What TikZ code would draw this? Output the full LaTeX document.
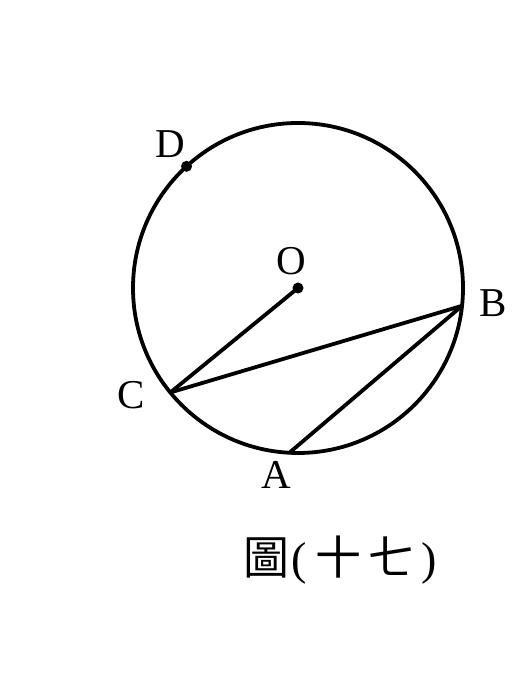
\documentclass[tikz,border=0pt]{standalone}
\usepackage{fontspec}
\setmainfont{Liberation Serif}
\newfontfamily\cjkfont{Noto Sans CJK TC}
\tikzset{
    pt/.style={circle, fill, inner sep=0pt, minimum size=11pt},
    lbl/.style={font=\fontsize{41}{45}\selectfont, inner sep=0pt}
}
\begin{document}
\begin{tikzpicture}[x=1pt, y=1pt, line width=3.8pt]
    \useasboundingbox (0,0) rectangle (517,700);

            %%circle and points
            \coordinate (O) at (298,412);
            \draw (O) circle (165);
            \coordinate (B) at ([shift={(O)}]-6.2:165);
            \coordinate (C) at ([shift={(O)}]219.3:165);
            \coordinate (A) at ([shift={(O)}]267:165);
            \coordinate (D) at ([shift={(O)}]132.5:165);
            \node[pt] (dotO) at (O){};
            \node[pt] (dotD) at (D){};

            %%labels
            \node[lbl] (labD) at (170,556){D};
            \node[lbl] (labO) at (291,439){O};
            \node[lbl] (labB) at (493,397){B};
            \node[lbl] (labC) at (131,305){C};
            \node[lbl] (labA) at (276,225){A};

            %%chords
            \draw (O) -- (C);
            \draw (C) -- (B);
            \draw (B) -- (A);

            %%caption
            \node[font=\fontsize{46}{50}\selectfont, inner sep=0pt] (cap) at (340,140)
                {{\cjkfont 圖}\hspace{2pt}(\hspace{8pt}{\cjkfont 十}\hspace{8pt}{\cjkfont 七}\hspace{6pt})};
\end{tikzpicture}
\end{document}
